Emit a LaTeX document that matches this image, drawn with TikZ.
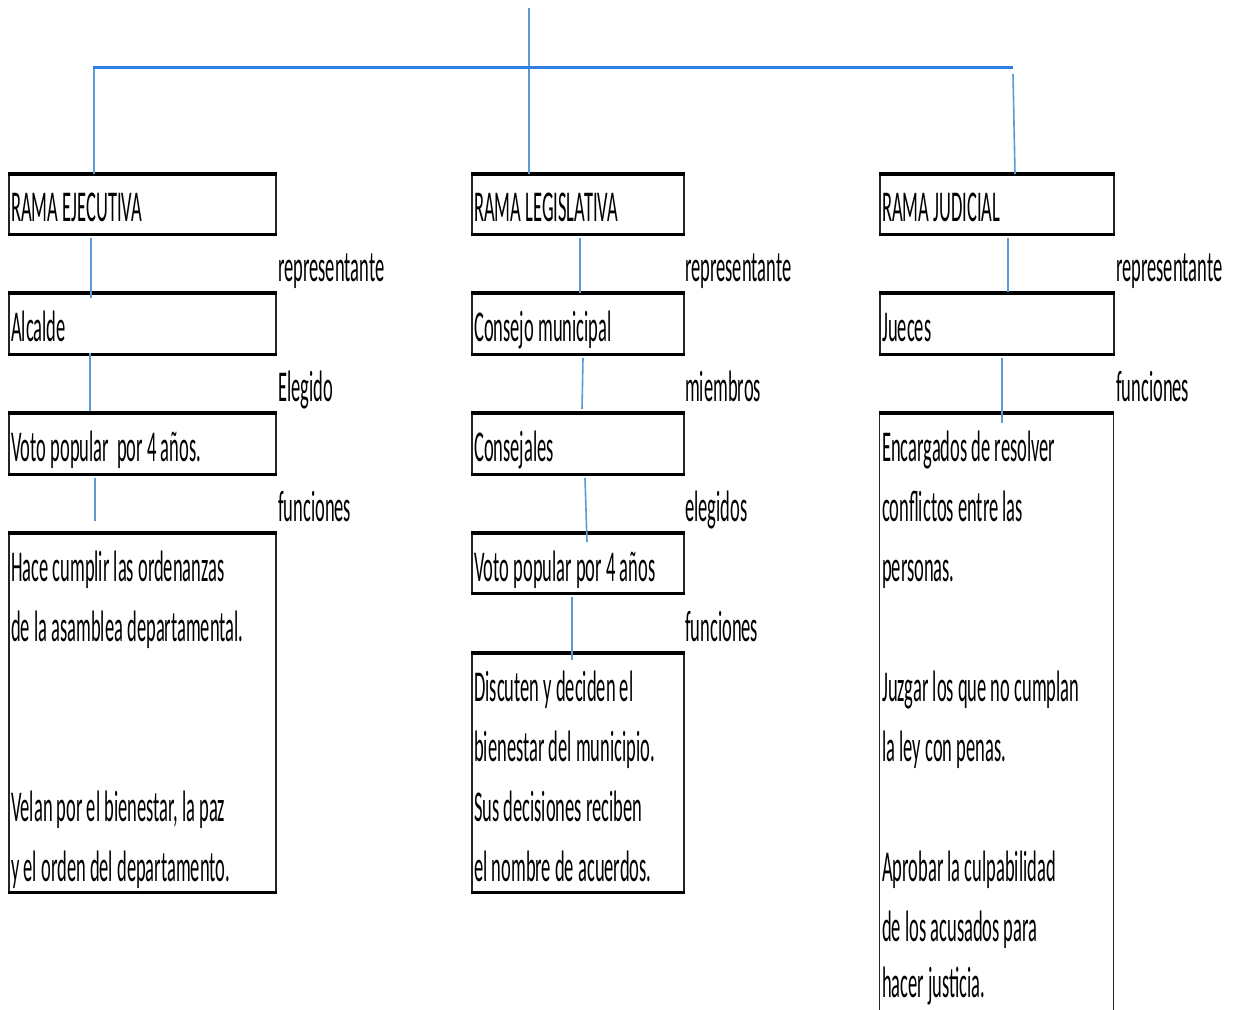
\documentclass[tikz,border=0pt]{standalone}
\usepackage{fontspec}
\setmainfont{Carlito}[FakeStretch=0.42]
\definecolor{topblue}{HTML}{2F7FE0}
\definecolor{linkblue}{HTML}{5B9BD5}
\begin{document}
\begin{tikzpicture}[x=1pt,y=-1pt,
  box/.style={draw=black!85, line width=1.5pt, inner sep=0pt, anchor=north west},
  tline/.style={draw=black, line width=3.5pt},
  bline/.style={draw=black, line width=2.5pt},
  txt/.style={anchor=base west, inner sep=0pt, font=\fontsize{44}{60}\selectfont},
  link/.style={draw=linkblue, line width=1.6pt},
  bar/.style={draw=topblue, line width=3pt}]
\useasboundingbox (0,0) rectangle (1236,1009);
\clip (0,0) rectangle (1236,1009);

% ---------- boxes ----------
\node[box, minimum width=267pt, minimum height=59pt] (e1) at (8,174) {};
\node[box, minimum width=267pt, minimum height=60pt] (e2) at (8,293) {};
\node[box, minimum width=267pt, minimum height=60pt] (e3) at (8,413) {};
\node[box, minimum width=267pt, minimum height=358pt] (e4) at (8,533) {};

\node[box, minimum width=212pt, minimum height=59pt] (l1) at (471,174) {};
\node[box, minimum width=212pt, minimum height=60pt] (l2) at (471,293) {};
\node[box, minimum width=212pt, minimum height=60pt] (l3) at (471,413) {};
\node[box, minimum width=212pt, minimum height=59pt] (l4) at (471,533) {};
\node[box, minimum width=212pt, minimum height=238pt] (l5) at (471,653) {};

\node[box, minimum width=234pt, minimum height=59pt] (j1) at (879,174) {};
\node[box, minimum width=234pt, minimum height=60pt] (j2) at (879,293) {};
\node[box, minimum width=234pt, minimum height=640pt, line width=1.2pt] (j3) at (879,413) {};

\foreach \b in {e1,e2,e3,e4,l1,l2,l3,l4,l5,j1,j2}{
  \draw[tline] (\b.north west) -- (\b.north east);
  \draw[bline] (\b.south west) -- (\b.south east);
}
\draw[tline] (j3.north west) -- (j3.north east);

% ---------- texts in boxes ----------
\node[txt] (te1) at (11,221) {RAMA EJECUTIVA};
\node[txt] (te2) at (11,341) {Alcalde};
\node[txt] (te3) at (11,461) {Voto popular\ \ por 4 años.};
\node[txt] (te4a) at (11,581) {Hace cumplir las ordenanzas};
\node[txt] (te4b) at (11,641) {de la asamblea departamental.};
\node[txt] (te5a) at (11,821) {Velan por el bienestar, la paz};
\node[txt] (te5b) at (11,881) {y el orden del departamento.};

\node[txt] (tl1) at (474,221) {RAMA LEGISLATIVA};
\node[txt] (tl2) at (474,341) {Consejo municipal};
\node[txt] (tl3) at (474,461) {Consejales};
\node[txt] (tl4) at (474,581) {Voto popular por 4 años};
\node[txt] (tl5a) at (474,701) {Discuten y deciden el};
\node[txt] (tl5b) at (474,761) {bienestar del municipio.};
\node[txt] (tl5c) at (474,821) {Sus decisiones reciben};
\node[txt] (tl5d) at (474,881) {el nombre de acuerdos.};

\node[txt] (tj1) at (882,221) {RAMA JUDICIAL};
\node[txt] (tj2) at (882,341) {Jueces};
\node[txt] (tj3a) at (882,461) {Encargados de resolver};
\node[txt] (tj3b) at (882,521) {conflictos entre las};
\node[txt] (tj3c) at (882,581) {personas.};
\node[txt] (tj4a) at (882,701) {Juzgar los que no cumplan};
\node[txt] (tj4b) at (882,761) {la ley con penas.};
\node[txt] (tj5a) at (882,881) {Aprobar la culpabilidad};
\node[txt] (tj5b) at (882,941) {de los acusados para};
\node[txt] (tj5c) at (882,997) {hacer justicia.};

% ---------- side labels ----------
\node[txt] (se1) at (278,281) {representante};
\node[txt] (se2) at (278,401) {Elegido};
\node[txt] (se3) at (278,521) {funciones};

\node[txt] (sl1) at (685,281) {representante};
\node[txt] (sl2) at (685,401) {miembros};
\node[txt] (sl3) at (685,521) {elegidos};
\node[txt] (sl4) at (685,641) {funciones};

\node[txt] (sj1) at (1116,281) {representante};
\node[txt] (sj2) at (1116,401) {funciones};

% ---------- connector end points ----------
\coordinate (rootT) at (529,8);
\coordinate (rootB) at (529,174);
\coordinate (barL) at (93,67);
\coordinate (barR) at (1013,67);
\coordinate (exT) at (94,67);
\coordinate (exB) at (94,174);
\coordinate (juT) at (1013,74);
\coordinate (juB) at (1015,174);

\coordinate (e12a) at (91,238);  \coordinate (e12b) at (91,298);
\coordinate (e23a) at (90,353);  \coordinate (e23b) at (90,411);
\coordinate (e34a) at (95,478);  \coordinate (e34b) at (95,521);

\coordinate (l12a) at (580,238); \coordinate (l12b) at (580,293);
\coordinate (l23a) at (583,358); \coordinate (l23b) at (582,409);
\coordinate (l34a) at (585,478); \coordinate (l34b) at (587,542);
\coordinate (l45a) at (572,597); \coordinate (l45b) at (572,660);

\coordinate (j12a) at (1008,238); \coordinate (j12b) at (1008,292);
\coordinate (j23a) at (1002,358); \coordinate (j23b) at (1002,423);

% ---------- connectors ----------
\draw[link] (rootT) -- (rootB);
\draw[link] (exT) -- (exB);
\draw[link] (juT) -- (juB);
\draw[bar] (barL) -- (barR);

\draw[link] (e12a) -- (e12b);
\draw[link] (e23a) -- (e23b);
\draw[link] (e34a) -- (e34b);
\draw[link] (l12a) -- (l12b);
\draw[link] (l23a) -- (l23b);
\draw[link] (l34a) -- (l34b);
\draw[link] (l45a) -- (l45b);
\draw[link] (j12a) -- (j12b);
\draw[link] (j23a) -- (j23b);
\end{tikzpicture}
\end{document}
